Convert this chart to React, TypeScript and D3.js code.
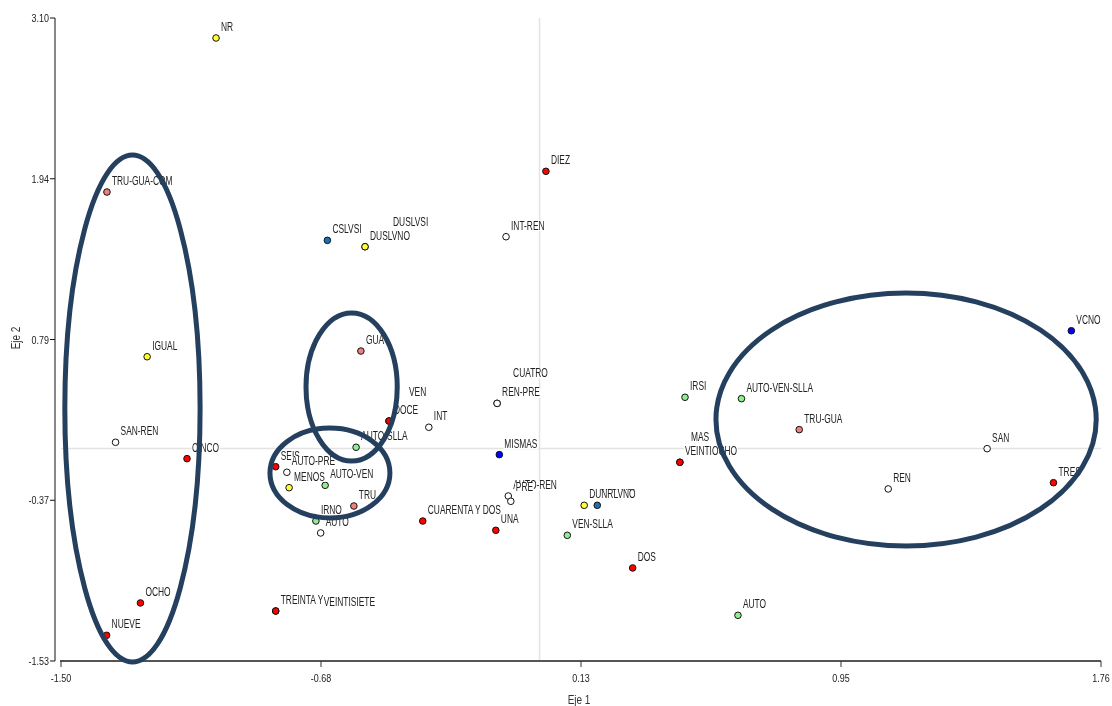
import React, { useEffect, useRef } from "react";
import * as d3 from "d3";

// ---- data ----
const xDomain = [-1.5, 1.76];
const yDomain = [-1.53, 3.1];
const xTickLabels = ["-1.50", "-0.68", "0.13", "0.95", "1.76"];
const yTickLabels = ["-1.53", "-0.37", "0.79", "1.94", "3.10"];

const pointNames = [
  "NR", "TRU-GUA-COM", "IGUAL", "SAN-REN", "CINCO", "OCHO", "NUEVE",
  "CSLVSI", "DUSLVSI", "DUSLVNO", "GUA", "VEN", "DOCE", "INT", "AUTO-SLLA",
  "SEIS", "AUTO-PRE", "MENOS", "AUTO-VEN", "TRU", "IRNO", "AUTO",
  "UNA", "CUARENTA Y DOS", "MISMAS", "CUATRO", "REN-PRE", "INT-REN", "DIEZ",
  "AUTO-REN", "PRE", "CNRLVSI", "DUNRLVNO", "VEN-SLLA", "DOS", "AUTO",
  "MAS", "VEINTIOCHO", "IRSI", "AUTO-VEN-SLLA", "TRU-GUA", "REN", "SAN",
  "TRES", "VCNO", "TREINTA Y", "VEINTISIETE",
];
const eje1 = [
  -1.014, -1.356, -1.23, -1.329, -1.105, -1.251, -1.357,
  -0.665, -0.547, -0.547, -0.56, -0.472, -0.472, -0.347, -0.575,
  -0.827, -0.792, -0.785, -0.672, -0.582, -0.701, -0.686,
  -0.137, -0.366, -0.126, -0.133, -0.133, -0.105, 0.02,
  -0.098, -0.09, 0.181, 0.14, 0.087, 0.292, 0.622,
  0.44, 0.44, 0.456, 0.633, 0.814, 1.093, 1.403,
  1.611, 1.667, -0.827, -0.827,
];
const eje2 = [
  2.956, 1.847, 0.661, 0.045, -0.073, -1.112, -1.345,
  1.499, 1.453, 1.453, 0.702, 0.198, 0.198, 0.153, 0.009,
  -0.131, -0.171, -0.282, -0.265, -0.414, -0.522, -0.608,
  -0.589, -0.522, -0.044, 0.325, 0.325, 1.525, 1.996,
  -0.342, -0.38, -0.409, -0.409, -0.625, -0.86, -1.201,
  -0.099, -0.099, 0.369, 0.359, 0.136, -0.291, -0.001,
  -0.246, 0.848, -1.17, -1.17,
];
const groups = [
  "yellow", "salmon", "yellow", "white", "red", "red", "red",
  "steel", "yellow", "yellow", "salmon", "green", "red", "white", "green",
  "red", "white", "yellow", "green", "salmon", "green", "white",
  "red", "red", "blue", "red", "white", "white", "red",
  "white", "white", "steel", "yellow", "green", "red", "green",
  "blue", "red", "green", "green", "salmon", "white", "white",
  "red", "blue", "red", "red",
];
// label nudges (px) for labels displaced by overlap
const labelNudge: Record<number, [number, number]> = {
  8: [23, -14],
  11: [15, -18],
  25: [11, -19],
  30: [0, -3],
  31: [-3, 0],
  36: [6, -14],
  46: [43, 2],
};
// annotation ellipses in data units: cx, cy, rx, ry
const ellCx = [-1.276, -0.589, -0.657, 1.149];
const ellCy = [0.288, 0.443, -0.176, 0.209];
const ellRx = [0.212, 0.143, 0.188, 0.596];
const ellRy = [1.825, 0.533, 0.324, 0.911];

const colorMap: Record<string, string> = {
  red: "#ff0000",
  salmon: "#f08080",
  yellow: "#ffff33",
  green: "#90ee90",
  white: "#ffffff",
  blue: "#0000ff",
  steel: "#1f6fb4",
};

export default function App() {
  const ref = useRef<SVGSVGElement>(null);

  useEffect(() => {
    const svg = d3.select(ref.current);
    svg.selectAll("*").remove();
    const x = d3.scaleLinear().domain(xDomain).range([61, 1101]);
    const y = d3.scaleLinear().domain(yDomain).range([661, 18]);
    const font = "'Liberation Sans', Arial, sans-serif";

    // zero reference lines
    svg.append("line").attr("x1", x(0)).attr("x2", x(0)).attr("y1", 18).attr("y2", 661)
      .attr("stroke", "#e3e3e3").attr("stroke-width", 1.5);
    svg.append("line").attr("x1", 61).attr("x2", 1101).attr("y1", y(0)).attr("y2", y(0))
      .attr("stroke", "#e3e3e3").attr("stroke-width", 1.5);

    // axes
    const xt = xTickLabels.map((_, i) => xDomain[0] + (i * (xDomain[1] - xDomain[0])) / 4);
    const yt = yTickLabels.map((_, i) => yDomain[0] + (i * (yDomain[1] - yDomain[0])) / 4);

    const txt = svg.append("g").attr("opacity", 0.999);

    svg.append("line").attr("x1", 55).attr("x2", 55).attr("y1", y(yDomain[1])).attr("y2", y(yDomain[0]))
      .attr("stroke", "#111").attr("stroke-width", 1);
    yt.forEach((v, i) => {
      svg.append("line").attr("x1", 50).attr("x2", 55).attr("y1", y(v)).attr("y2", y(v))
        .attr("stroke", "#111");
      txt.append("text")
        .attr("transform", `translate(49,${y(v) + 4}) scale(0.78,1)`)
        .attr("text-anchor", "end").attr("font-family", font).attr("font-size", 11.5)
        .attr("fill", "#222").text(yTickLabels[i]);
    });

    svg.append("line").attr("x1", 60).attr("x2", 1101).attr("y1", 661).attr("y2", 661)
      .attr("stroke", "#555").attr("stroke-width", 2);
    xt.forEach((v, i) => {
      svg.append("line").attr("x1", x(v)).attr("x2", x(v)).attr("y1", 661).attr("y2", 667)
        .attr("stroke", "#333");
      txt.append("text")
        .attr("transform", `translate(${x(v)},${682}) scale(0.78,1)`)
        .attr("text-anchor", "middle").attr("font-family", font).attr("font-size", 11.5)
        .attr("fill", "#222").text(xTickLabels[i]);
    });

    txt.append("text").attr("transform", `translate(579,704) scale(0.8,1)`)
      .attr("text-anchor", "middle").attr("font-family", font).attr("font-size", 12.5)
      .attr("fill", "#333").text("Eje 1");
    txt.append("text").attr("transform", `translate(20,338) rotate(-90) scale(0.8,1)`)
      .attr("text-anchor", "middle").attr("font-family", font).attr("font-size", 12.5)
      .attr("fill", "#333").text("Eje 2");

    // points
    const pts = svg.append("g");
    pointNames.forEach((_, i) => {
      pts.append("circle").attr("cx", x(eje1[i])).attr("cy", y(eje2[i])).attr("r", 3.3)
        .attr("fill", colorMap[groups[i]]).attr("stroke", "#111").attr("stroke-width", 1);
    });

    // labels with white backgrounds
    const labels = svg.append("g").attr("opacity", 0.999);
    pointNames.forEach((name, i) => {
      const nd = labelNudge[i] || [0, 0];
      const lx = x(eje1[i]) + 5 + nd[0];
      const ly = y(eje2[i]) - 7 + nd[1];
      const g = labels.append("g").attr("transform", `translate(${lx},${ly}) scale(0.7,1)`);
      const rect = g.append("rect").attr("fill", "#fff");
      const t = g.append("text").attr("x", 0).attr("y", 0).attr("font-family", font)
        .attr("font-size", 12).attr("fill", "#222").text(name);
      const bb = (t.node() as SVGTextElement).getBBox();
      rect.attr("x", bb.x - 1).attr("y", bb.y + 2).attr("width", bb.width + 2).attr("height", bb.height - 3);
    });

    // ellipses
    ellCx.forEach((cx, i) => {
      svg.append("ellipse")
        .attr("cx", x(cx)).attr("cy", y(ellCy[i]))
        .attr("rx", x(cx + ellRx[i]) - x(cx)).attr("ry", y(ellCy[i] - ellRy[i]) - y(ellCy[i]))
        .attr("fill", "none").attr("stroke", "#253f5e").attr("stroke-width", 5);
    });
  }, []);

  return (
    <svg ref={ref} width={1112} height={706}
      style={{ position: "absolute", left: 0, top: 0, background: "#fff" }} />
  );
}
